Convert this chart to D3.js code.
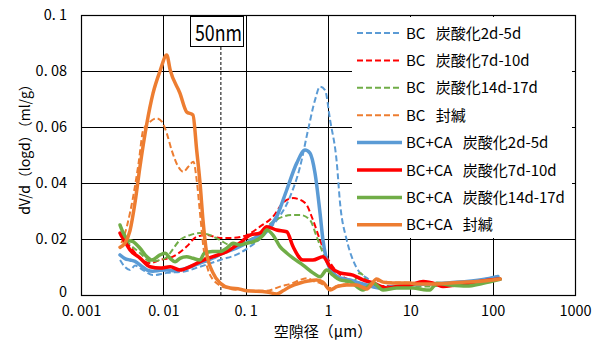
<!DOCTYPE html>
<html><head><meta charset="utf-8">
<script src="https://cdn.jsdelivr.net/npm/d3@7"></script>
<style>body{margin:0;background:#fff}svg{display:block}text{font-family:"Noto Sans CJK JP","Liberation Sans",sans-serif}</style>
</head><body>
<svg id="c" width="601" height="342"></svg>
<script>
// ---- data: [pore diameter (μm), dV/d(logd) (ml/g)] ----
const bc_2d5d = [[0.00298,0.0125],[0.00342,0.0100],[0.00394,0.0089],[0.00453,0.0105],[0.00567,0.0089],[0.00749,0.0071],[0.0110,0.0079],[0.0173,0.0083],[0.0279,0.0101],[0.0488,0.0125],[0.0853,0.0150],[0.103,0.0165],[0.149,0.0200],[0.215,0.0250],[0.346,0.0351],[0.457,0.0457],[0.572,0.0589],[0.695,0.0696],[0.800,0.0744],[0.920,0.0732],[1.06,0.0625],[1.28,0.0471],[1.40,0.0329],[1.69,0.0196],[2.01,0.0125],[2.45,0.0079],[2.95,0.0061],[3.91,0.0036],[5.17,0.0030],[9.92,0.0036],[18.9,0.0039],[30.3,0.0044],[48.4,0.0048],[76.4,0.0055],[116,0.0068]];
const bc_7d10d = [[0.00298,0.0214],[0.00394,0.0173],[0.00521,0.0132],[0.00689,0.0114],[0.00912,0.0125],[0.0131,0.0137],[0.0192,0.0173],[0.0254,0.0208],[0.0336,0.0214],[0.0488,0.0204],[0.0702,0.0204],[0.103,0.0214],[0.149,0.0244],[0.215,0.0280],[0.284,0.0329],[0.376,0.0346],[0.526,0.0329],[0.657,0.0268],[0.800,0.0196],[0.964,0.0137],[1.15,0.0101],[1.52,0.0065],[1.85,0.0054],[2.95,0.0036],[4.29,0.0032],[6.84,0.0032],[9.92,0.0037],[14.3,0.0046],[24.9,0.0034],[36.6,0.0037],[48.4,0.0041],[76.4,0.0050],[123,0.0057]];
const bc_14d17d = [[0.00298,0.0220],[0.00394,0.0180],[0.00521,0.0150],[0.00689,0.0120],[0.00912,0.0125],[0.0110,0.0135],[0.0121,0.0150],[0.0159,0.0196],[0.0211,0.0214],[0.0279,0.0221],[0.0369,0.0214],[0.0488,0.0196],[0.0646,0.0179],[0.0853,0.0186],[0.123,0.0204],[0.163,0.0232],[0.215,0.0262],[0.284,0.0280],[0.376,0.0286],[0.457,0.0286],[0.604,0.0268],[0.729,0.0208],[0.869,0.0150],[1.06,0.0101],[1.28,0.0065],[1.52,0.0050],[2.01,0.0045],[2.45,0.0079],[2.66,0.0071],[2.95,0.0050],[3.91,0.0032],[6.16,0.0028],[9.92,0.0030],[17.3,0.0030],[30.3,0.0038],[48.4,0.0038],[76.4,0.0046],[123,0.0055]];
const bc_sealed = [[0.0031,0.0185],[0.0036,0.0244],[0.0043,0.0351],[0.0050,0.0470],[0.0057,0.0589],[0.0069,0.0619],[0.0083,0.0631],[0.0096,0.0619],[0.0110,0.0578],[0.0126,0.0518],[0.0152,0.0458],[0.0175,0.0440],[0.0201,0.0458],[0.0232,0.0476],[0.0254,0.0411],[0.0279,0.0292],[0.0306,0.0173],[0.0350,0.0089],[0.0445,0.0042],[0.0610,0.0024],[0.0853,0.0018],[0.123,0.0015],[0.180,0.0015],[0.261,0.0030],[0.376,0.0043],[0.457,0.0054],[0.572,0.0060],[0.657,0.0050],[0.800,0.0043],[1.06,0.0025],[1.40,0.0036],[2.01,0.0040],[2.95,0.0030],[3.91,0.0050],[6.16,0.0045],[9.92,0.0044],[18.9,0.0042],[30.3,0.0044],[48.4,0.0047],[76.4,0.0052],[123,0.0058]];
const ca_2d5d = [[0.00298,0.0143],[0.00342,0.0130],[0.00394,0.0125],[0.00453,0.0120],[0.00521,0.0107],[0.00628,0.0090],[0.00749,0.0085],[0.00912,0.0088],[0.0110,0.0089],[0.0131,0.0087],[0.0159,0.0090],[0.0192,0.0096],[0.0279,0.0114],[0.0401,0.0132],[0.0488,0.0145],[0.0853,0.0173],[0.123,0.0200],[0.180,0.0232],[0.238,0.0280],[0.315,0.0375],[0.417,0.0471],[0.526,0.0518],[0.604,0.0507],[0.695,0.0436],[0.800,0.0293],[0.869,0.0196],[0.964,0.0125],[1.15,0.0079],[1.40,0.0061],[1.85,0.0054],[2.23,0.0046],[2.95,0.0036],[4.29,0.0025],[6.16,0.0030],[9.92,0.0036],[18.9,0.0040],[30.3,0.0044],[48.4,0.0048],[76.4,0.0055],[116,0.0066]];
const ca_7d10d = [[0.00298,0.0221],[0.00342,0.0190],[0.00394,0.0161],[0.00521,0.0132],[0.00689,0.0101],[0.00912,0.0096],[0.0121,0.0101],[0.0159,0.0089],[0.0211,0.0101],[0.0279,0.0119],[0.0401,0.0137],[0.0589,0.0155],[0.0853,0.0186],[0.113,0.0214],[0.149,0.0221],[0.180,0.0244],[0.238,0.0232],[0.315,0.0226],[0.376,0.0173],[0.497,0.0125],[0.657,0.0125],[0.869,0.0137],[1.06,0.0101],[1.40,0.0079],[2.01,0.0071],[2.66,0.0054],[3.52,0.0043],[5.17,0.0025],[6.84,0.0030],[9.92,0.0036],[14.3,0.0048],[20.9,0.0038],[24.9,0.0030],[36.6,0.0036],[48.4,0.0040],[76.4,0.0050],[123,0.0057]];
const ca_14d17d = [[0.00298,0.0250],[0.00328,0.0220],[0.00375,0.0196],[0.00432,0.0190],[0.00521,0.0167],[0.00628,0.0137],[0.00720,0.0125],[0.00912,0.0143],[0.0105,0.0149],[0.0121,0.0131],[0.0139,0.0119],[0.0159,0.0131],[0.0192,0.0137],[0.0229,0.0131],[0.0279,0.0125],[0.0314,0.0149],[0.0394,0.0155],[0.0488,0.0155],[0.0589,0.0167],[0.0702,0.0185],[0.0853,0.0179],[0.103,0.0185],[0.123,0.0190],[0.163,0.0214],[0.180,0.0232],[0.215,0.0214],[0.261,0.0173],[0.315,0.0150],[0.376,0.0132],[0.497,0.0107],[0.657,0.0079],[0.800,0.0065],[0.964,0.0089],[1.15,0.0071],[1.40,0.0054],[1.85,0.0048],[2.66,0.0018],[3.52,0.0043],[4.66,0.0018],[6.84,0.0025],[10.8,0.0025],[15.8,0.0018],[17.3,0.0018],[20.9,0.0042],[30.3,0.0036],[48.4,0.0032],[76.4,0.0042],[123,0.0056]];
const ca_sealed = [[0.00298,0.0170],[0.00342,0.0185],[0.00394,0.0230],[0.00453,0.0330],[0.00521,0.0460],[0.00628,0.0610],[0.00749,0.0720],[0.00912,0.0800],[0.0110,0.0857],[0.0121,0.0804],[0.0159,0.0721],[0.0192,0.0654],[0.0229,0.0643],[0.0254,0.0518],[0.0279,0.0400],[0.0303,0.0268],[0.0336,0.0150],[0.0401,0.0079],[0.0488,0.0043],[0.0646,0.0025],[0.0853,0.0021],[0.103,0.0015],[0.180,0.0011],[0.238,0.0004],[0.284,0.0015],[0.346,0.0030],[0.457,0.0043],[0.572,0.0050],[0.729,0.0054],[0.869,0.0046],[1.06,0.0018],[1.28,0.0030],[1.69,0.0036],[2.23,0.0036],[2.95,0.0021],[3.91,0.0057],[4.66,0.0046],[6.16,0.0043],[9.92,0.0043],[12.0,0.0039],[18.9,0.0039],[30.3,0.0043],[48.4,0.0046],[76.4,0.0050],[123,0.0057]];

const seriesNames = ["BC 炭酸化2d-5d","BC 炭酸化7d-10d","BC 炭酸化14d-17d","BC 封緘","BC+CA 炭酸化2d-5d","BC+CA 炭酸化7d-10d","BC+CA 炭酸化14d-17d","BC+CA 封緘"];
const seriesData = [bc_2d5d, bc_7d10d, bc_14d17d, bc_sealed, ca_2d5d, ca_7d10d, ca_14d17d, ca_sealed];
const xTicks = [0.001, 0.01, 0.1, 1, 10, 100, 1000];
const xTickLabels = ["0. 001","0. 01","0. 1","1","10","100","1000"];
const yTicks = [0, 0.02, 0.04, 0.06, 0.08, 0.1];
const yTickLabels = ["0","0. 02","0. 04","0. 06","0. 08","0. 1"];
const markerValue = 0.05;
const markerLabel = "50nm";
const xTitle = "空隙径（μm）";
const yTitle = "dV/d（logd）（ml/g）";

// ---- styles ----
const colors = ["#5B9BD5","#FF0000","#70AD47","#ED7D31","#5B9BD5","#FF0000","#70AD47","#ED7D31"];
const dashed = [true,true,true,true,false,false,false,false];

const svg = d3.select("#c");
const L = 81, R = 575, T = 15, B = 295;
const x = d3.scaleLog().domain([0.001, 1000]).range([L, R]);
const y = d3.scaleLinear().domain([0, 0.1]).range([B, T]);

// grid
const g = svg.append("g");
g.selectAll(".gx").data(xTicks).join("line")
  .attr("x1", d => Math.round(x(d)) + 0.5).attr("x2", d => Math.round(x(d)) + 0.5)
  .attr("y1", T).attr("y2", B).attr("stroke", "#000").attr("stroke-width", 1);
g.selectAll(".gy").data(yTicks).join("line")
  .attr("y1", d => Math.round(y(d)) + 0.5).attr("y2", d => Math.round(y(d)) + 0.5)
  .attr("x1", L).attr("x2", R).attr("stroke", "#000").attr("stroke-width", 1);
svg.append("rect").attr("x", L + 0.5).attr("y", T + 0.5).attr("width", R - L).attr("height", B - T)
  .attr("fill", "none").attr("stroke", "#000").attr("stroke-width", 1.2);

// axes labels via d3 axes
const tickFont = '"Liberation Sans","Noto Sans CJK JP",sans-serif';
const xAxis = d3.axisBottom(x).tickValues(xTicks).tickFormat((d, i) => xTickLabels[i]).tickSize(0).tickPadding(10);
const xa = svg.append("g").attr("transform", `translate(0,${B})`).call(xAxis);
xa.select(".domain").remove();
xa.selectAll("text").attr("font-size", 14.5).attr("fill", "#000").attr("font-family", tickFont)
  .attr("dy", null).attr("y", 20.5);
const yAxis = d3.axisLeft(y).tickValues(yTicks).tickFormat((d, i) => yTickLabels[i]).tickSize(0).tickPadding(14);
const ya = svg.append("g").attr("transform", `translate(${L},0)`).call(yAxis);
ya.select(".domain").remove();
ya.selectAll("text").attr("font-size", 14.5).attr("fill", "#000").attr("font-family", tickFont)
  .attr("dy", "0.3em");
// lift the baseline "0" label a little so it clears the first x label
ya.selectAll("text").filter((d, i) => i === 0).attr("dy", "0.1em");

// marker line
svg.append("line").attr("x1", x(markerValue)).attr("x2", x(markerValue)).attr("y1", 47).attr("y2", B)
  .attr("stroke", "#000").attr("stroke-width", 1).attr("stroke-dasharray", "3,2");
svg.append("rect").attr("x", 190.5).attr("y", 16.5).attr("width", 53).attr("height", 30)
  .attr("fill", "#fff").attr("stroke", "#000").attr("stroke-width", 1);
svg.append("text").attr("x", 195).attr("y", 41).attr("font-size", 22).attr("textLength", 47)
  .attr("lengthAdjust", "spacingAndGlyphs").attr("font-family", '"Noto Sans CJK JP",sans-serif').text(markerLabel);

// clip
svg.append("clipPath").attr("id", "clip").append("rect").attr("x", L).attr("y", T).attr("width", R - L).attr("height", B - T);

const line = d3.line().x(d => x(d[0])).y(d => y(d[1])).curve(d3.curveMonotoneX);
const lg = svg.append("g").attr("clip-path", "url(#clip)");
seriesData.forEach((s, i) => {
  lg.append("path").datum(s).attr("d", line).attr("fill", "none")
    .attr("stroke", colors[i]).attr("stroke-width", dashed[i] ? 2 : 3.5)
    .attr("stroke-dasharray", dashed[i] ? "6,3" : null)
    .attr("stroke-linejoin", "round").attr("stroke-linecap", dashed[i] ? "butt" : "round");
});

// legend
svg.append("rect").attr("x", 352).attr("y", 17).attr("width", 220).attr("height", 221).attr("fill", "#fff");
const leg = svg.append("g");
seriesNames.forEach((n, i) => {
  const yy = 33 + i * 27.4;
  leg.append("line").attr("x1", 357).attr("x2", 402).attr("y1", yy).attr("y2", yy)
    .attr("stroke", colors[i]).attr("stroke-width", dashed[i] ? 2 : 3.5)
    .attr("stroke-dasharray", dashed[i] ? "6,3" : null);
  leg.append("text").attr("x", 406).attr("y", yy + 5.5).attr("font-size", 15).attr("fill", "#000")
    .attr("word-spacing", 7).text(n);
});

// titles
svg.append("text").attr("x", 323).attr("y", 337).attr("text-anchor", "middle").attr("font-size", 15).text(xTitle);
svg.append("text").attr("transform", "translate(30,146) rotate(-90)").attr("text-anchor", "middle")
  .attr("font-size", 14).text(yTitle);
</script>
</body></html>
